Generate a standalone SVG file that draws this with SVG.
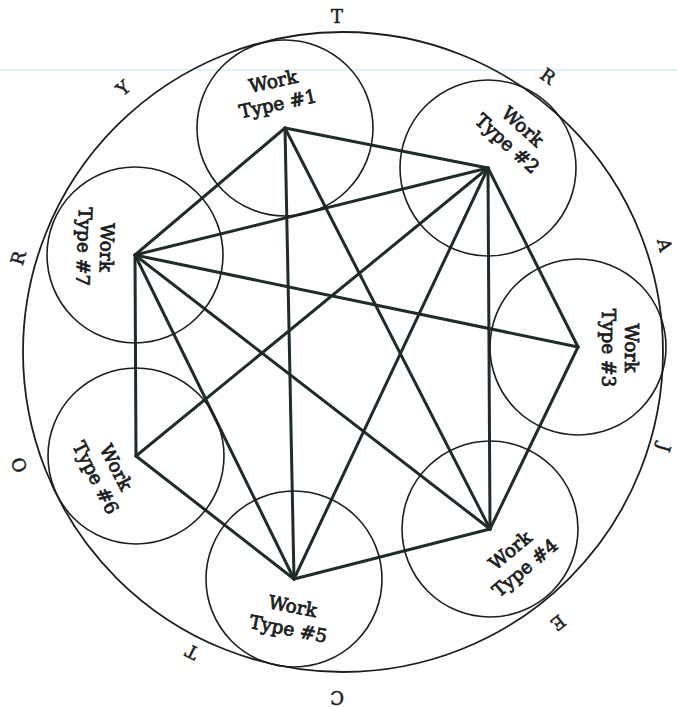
<svg xmlns="http://www.w3.org/2000/svg" width="677" height="707" viewBox="0 0 677 707">
<style>
.bg{fill:#ffffff}
.ring{fill:none;stroke:#1b201e;stroke-width:1.8}
.node{fill:none;stroke:#1b201e;stroke-width:1.6}
.edge{stroke:#1f2c27;stroke-width:3;stroke-linecap:round}
.lbl{font-family:"DejaVu Serif","Liberation Serif",serif;font-size:18.5px;fill:#1b201e;stroke:#1b201e;stroke-width:0.8;text-anchor:middle}
.let{font-family:"DejaVu Serif","Liberation Serif",serif;font-size:18px;fill:#1b201e;stroke:#1b201e;stroke-width:0.5;text-anchor:middle}
</style>
<rect class="bg" x="0" y="0" width="677" height="707"/>
<line x1="0" y1="70" x2="677" y2="70" stroke="#dff3f6" stroke-width="2"/>
<g id="outer">
<circle class="ring" cx="343" cy="352" r="320"/>
<text class="let" transform="translate(337,16) rotate(0)" y="6.5">T</text>
<text class="let" transform="translate(548,76) rotate(36)" y="6.5">R</text>
<text class="let" transform="translate(665,245) rotate(76)" y="6.5">A</text>
<text class="let" transform="translate(664,448) rotate(106)" y="6.5">J</text>
<text class="let" transform="translate(558,623) rotate(142)" y="6.5">E</text>
<text class="let" transform="translate(337,697) rotate(180)" y="6.5">C</text>
<text class="let" transform="translate(192,652) rotate(207)" y="6.5">T</text>
<text class="let" transform="translate(19,465) rotate(250)" y="6.5">O</text>
<text class="let" transform="translate(18,258) rotate(286)" y="6.5">R</text>
<text class="let" transform="translate(123,88) rotate(320)" y="6.5">Y</text>
</g>
<g id="connectors">
<line class="edge" x1="285" y1="128" x2="488" y2="168"/>
<line class="edge" x1="285" y1="128" x2="135" y2="255"/>
<line class="edge" x1="285" y1="128" x2="294" y2="579"/>
<line class="edge" x1="285" y1="128" x2="490" y2="529"/>
<line class="edge" x1="488" y1="168" x2="578" y2="347"/>
<line class="edge" x1="488" y1="168" x2="490" y2="529"/>
<line class="edge" x1="488" y1="168" x2="294" y2="579"/>
<line class="edge" x1="488" y1="168" x2="136" y2="456"/>
<line class="edge" x1="488" y1="168" x2="135" y2="255"/>
<line class="edge" x1="578" y1="347" x2="490" y2="529"/>
<line class="edge" x1="578" y1="347" x2="135" y2="255"/>
<line class="edge" x1="490" y1="529" x2="294" y2="579"/>
<line class="edge" x1="490" y1="529" x2="135" y2="255"/>
<line class="edge" x1="294" y1="579" x2="136" y2="456"/>
<line class="edge" x1="294" y1="579" x2="135" y2="255"/>
<line class="edge" x1="136" y1="456" x2="135" y2="255"/>
</g>
<g id="node1">
<circle class="node" cx="285" cy="128" r="88"/>
<g transform="translate(275.5,92.5) rotate(-12)"><text class="lbl" y="-5">Work</text><text class="lbl" y="18">Type #1</text></g>
</g>
<g id="node2">
<circle class="node" cx="488" cy="168" r="88"/>
<g transform="translate(515,135) rotate(42)"><text class="lbl" y="-5">Work</text><text class="lbl" y="18">Type #2</text></g>
</g>
<g id="node3">
<circle class="node" cx="578" cy="347" r="88"/>
<g transform="translate(620,348) rotate(90)"><text class="lbl" y="-5">Work</text><text class="lbl" y="18">Type #3</text></g>
</g>
<g id="node4">
<circle class="node" cx="490" cy="529" r="88"/>
<g transform="translate(517.5,559) rotate(-40)"><text class="lbl" y="-5">Work</text><text class="lbl" y="18">Type #4</text></g>
</g>
<g id="node5">
<circle class="node" cx="294" cy="579" r="88"/>
<g transform="translate(290.5,617.5) rotate(11)"><text class="lbl" y="-5">Work</text><text class="lbl" y="18">Type #5</text></g>
</g>
<g id="node6">
<circle class="node" cx="136" cy="456" r="88"/>
<g transform="translate(106,472.5) rotate(63)"><text class="lbl" y="-5">Work</text><text class="lbl" y="18">Type #6</text></g>
</g>
<g id="node7">
<circle class="node" cx="135" cy="255" r="88"/>
<g transform="translate(95.5,247) rotate(92)"><text class="lbl" y="-5">Work</text><text class="lbl" y="18">Type #7</text></g>
</g>
</svg>
